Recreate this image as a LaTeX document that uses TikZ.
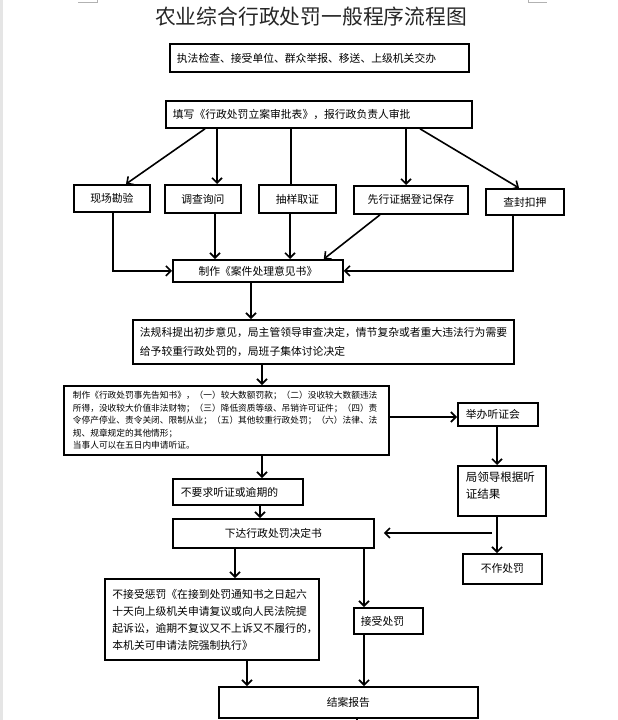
\documentclass[tikz,border=0pt]{standalone}
\usepackage{fontspec}
\setmainfont{Noto Sans CJK SC}
\usetikzlibrary{arrows.meta,calc}
\begin{document}
\begin{tikzpicture}[x=1pt,y=-1pt,
  bx/.style={draw, line width=1.8pt, inner sep=0pt, anchor=north west, font=\fontsize{10.8pt}{17pt}\selectfont},
  lt/.style={align=left, inner xsep=7pt},
  ln/.style={line width=1.6pt},
  arr/.style={line width=1.6pt, -{Straight Barb[length=5pt,width=10pt]}},
  mark/.style={draw=black!30, line width=0.8pt}
]
\useasboundingbox (0,0) rectangle (618,720);
\fill[white] (0,0) rectangle (618,720);
\fill[black!10] (0,0) rectangle (3,720);
\draw[black!30, line width=0.8pt] (78,2.5) -- (97,2.5) -- (97,0);
\draw[black!30, line width=0.8pt] (528,0) -- (528,2.5) -- (547,2.5);

\node[font=\fontsize{20.8pt}{24pt}\selectfont, text=black!85] (title) at (311,17) {农业综合行政处罚一般程序流程图};

\node[bx, lt, minimum width=299pt, minimum height=28pt, text width=285pt] (b1) at (169,43) {执法检查、接受单位、群众举报、移送、上级机关交办};
\node[bx, lt, minimum width=306pt, minimum height=27pt, text width=292pt] (b2) at (165,100) {填写《行政处罚立案审批表》，报行政负责人审批};

\node[bx, minimum width=76pt, minimum height=27pt] (r1) at (73,184) {现场勘验};
\node[bx, minimum width=76pt, minimum height=28pt] (r2) at (164,184) {调查询问};
\node[bx, minimum width=77pt, minimum height=28pt] (r3) at (258,184) {抽样取证};
\node[bx, minimum width=114pt, minimum height=28pt] (r4) at (353,185) {先行证据登记保存};
\node[bx, minimum width=78pt, minimum height=26pt] (r5) at (485,188) {查封扣押};

\node[bx, minimum width=170pt, minimum height=22pt] (zz) at (172,259) {制作《案件处理意见书》};

\node[bx, lt, minimum width=381pt, minimum height=44pt, text width=367pt, font=\fontsize{10.8pt}{19pt}\selectfont] (b3) at (132,319)
  {法规科提出初步意见，局主管领导审查决定，情节复杂或者重大违法行为需要\\给予较重行政处罚的，局班子集体讨论决定};

\node[bx, align=left, inner xsep=9pt, minimum width=325pt, minimum height=69pt, text width=307pt, font=\fontsize{8.7pt}{12.5pt}\selectfont] (b4) at (63,385)
  {制作《行政处罚事先告知书》，（一）较大数额罚款；（二）没收较大数额违法\\所得，没收较大价值非法财物；（三）降低资质等级、吊销许可证件；（四）责\\令停产停业、责令关闭、限制从业；（五）其他较重行政处罚；（六）法律、法\\规、规章规定的其他情形；\\当事人可以在五日内申请听证。};

\node[bx, align=left, inner xsep=8pt, minimum width=80pt, minimum height=23pt, text width=64pt] (hb) at (457,402) {举办听证会};
\node[bx, align=left, inner xsep=8pt, minimum width=88pt, minimum height=50pt, text width=72pt, font=\fontsize{11.5pt}{17pt}\selectfont] (jl) at (457,465) {局领导根据听\\证结果\\[-6pt]\mbox{}};
\node[bx, minimum width=79pt, minimum height=30pt] (bz) at (462,553) {不作处罚};

\node[bx, align=left, inner xsep=8pt, minimum width=130pt, minimum height=26pt, text width=114pt] (by) at (172,478) {不要求听证或逾期的};
\node[bx, minimum width=201pt, minimum height=29pt] (xd) at (172,518) {下达行政处罚决定书};

\node[bx, align=left, inner xsep=7.5pt, minimum width=214pt, minimum height=81pt, text width=199pt] (bj) at (104,578)
  {不接受惩罚《在接到处罚通知书之日起六\\十天向上级机关申请复议或向人民法院提\\起诉讼，逾期不复议又不上诉又不履行的，\\本机关可申请法院强制执行》};
\node[bx, align=left, inner xsep=7pt, minimum width=69pt, minimum height=26pt, text width=55pt] (js) at (353,607) {接受处罚};
\node[bx, minimum width=259pt, minimum height=31pt] (ja) at (218,686) {结案报告};

% connectors
\draw[arr] ($(b2.south west)+(40,0)$) -- ($(r1.north west)+(53,0)$);
\draw[arr] ($(b2.south west)+(52,0)$) -- ($(r2.north west)+(53,0)$);
\draw[ln]  ($(b2.south west)+(126,0)$) -- ($(r3.north west)+(33,0)$);
\draw[arr] ($(b2.south west)+(241,0)$) -- ($(r4.north west)+(53,0)$);
\draw[arr] ($(b2.south west)+(255,0)$) -- ($(r5.north west)+(34,0)$);

\draw[arr] ($(r1.south west)+(40,0)$) |- (zz.west);
\draw[arr] ($(r2.south west)+(51,0)$) -- ($(zz.north west)+(43,0)$);
\draw[arr] ($(r3.south west)+(32,0)$) -- ($(zz.north west)+(118,0)$);
\draw[arr] ($(r4.south west)+(27,0)$) -- ($(zz.north east)+(-20,0)$);
\draw[arr] ($(r5.south west)+(28,0)$) |- (zz.east);

\draw[arr] ($(zz.south west)+(79,0)$) -- ($(b3.north west)+(119,0)$);
\draw[arr] ($(b3.south west)+(130,0)$) -- ($(b4.north west)+(199,0)$);
\draw[arr] ($(b4.north east)+(0,32)$) -- ($(hb.north west)+(0,15)$);
\draw[arr] ($(b4.south west)+(199,0)$) -- ($(by.north west)+(90,0)$);
\draw[arr] ($(by.south west)+(88,0)$) -- ($(xd.north west)+(88,0)$);
\draw[arr] ($(hb.south west)+(40,0)$) -- ($(jl.north west)+(40,0)$);
\draw[arr] ($(jl.south west)+(40,0)$) -- ($(bz.north west)+(35,0)$);
\coordinate (br) at (492,533);
\draw[arr, shorten >=9pt] (br) -- (br -| xd.east);
\draw[arr] ($(xd.south west)+(63,0)$) -- ($(bj.north west)+(131,0)$);
\draw[arr] ($(xd.south west)+(192,0)$) -- ($(js.north west)+(11,0)$);
\draw[arr] ($(bj.south west)+(143,0)$) -- ($(ja.north west)+(29,0)$);
\draw[arr] ($(js.south west)+(11,0)$) -- ($(ja.north west)+(146,0)$);
\coordinate (endc) at (357,720);
\draw[ln] ($(ja.south west)+(139,0)$) -- (endc);
\end{tikzpicture}
\end{document}
